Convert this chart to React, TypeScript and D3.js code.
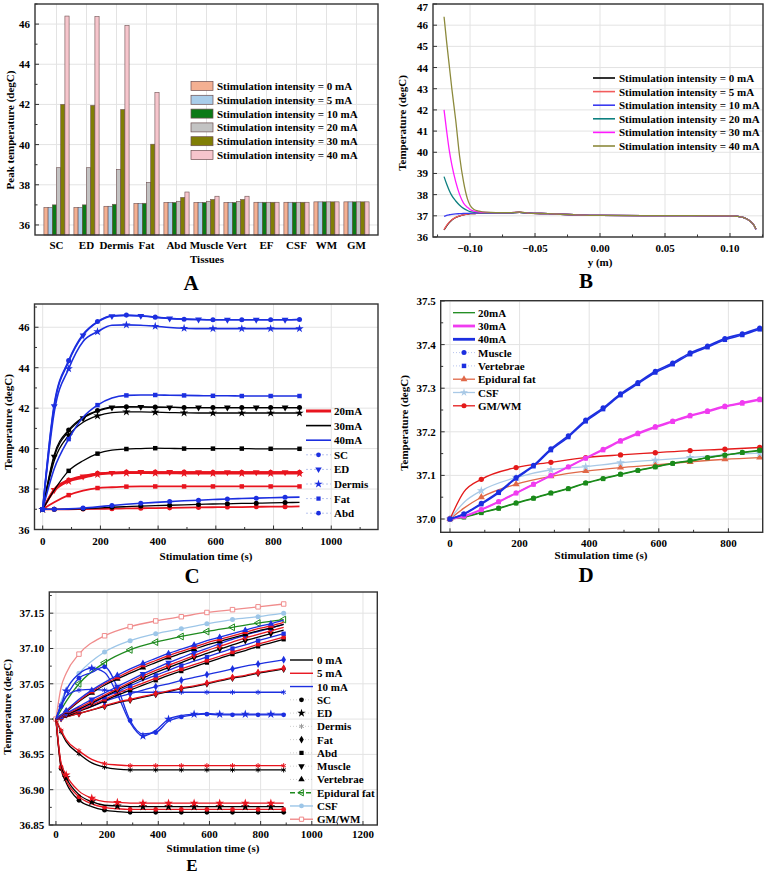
import React from 'react';
import * as d3 from 'd3';

const FONT = '"Liberation Serif","Times New Roman",Times,serif';

// ---------------- Panel A data ----------------
const tissuesA = ['SC', 'ED', 'Dermis', 'Fat', 'Abd', 'Muscle', 'Vert', 'EF', 'CSF', 'WM', 'GM'];
const intensityLabels = [
  'Stimulation intensity = 0 mA',
  'Stimulation intensity = 5 mA',
  'Stimulation intensity = 10 mA',
  'Stimulation intensity = 20 mA',
  'Stimulation intensity = 30 mA',
  'Stimulation intensity = 40 mA',
];
const peak0mA = [36.87, 36.87, 36.93, 37.07, 37.12, 37.12, 37.12, 37.13, 37.13, 37.15, 37.15];
const peak5mA = [36.87, 36.87, 36.93, 37.07, 37.12, 37.12, 37.12, 37.13, 37.13, 37.15, 37.15];
const peak10mA = [37.0, 37.0, 37.03, 37.08, 37.12, 37.12, 37.12, 37.13, 37.13, 37.15, 37.15];
const peak20mA = [38.85, 38.85, 38.77, 38.12, 37.18, 37.18, 37.17, 37.13, 37.13, 37.15, 37.15];
const peak30mA = [42.0, 41.95, 41.75, 40.02, 37.37, 37.27, 37.27, 37.13, 37.13, 37.15, 37.15];
const peak40mA = [46.4, 46.37, 45.93, 42.6, 37.64, 37.43, 37.43, 37.13, 37.13, 37.15, 37.15];
const barColorsA = ['#f4b092', '#a9cdea', '#0b7a16', '#c3c3c3', '#807e05', '#f6c5cc'];

// ---------------- Panel B data ----------------
const posB = [-0.12, -0.118, -0.116, -0.114, -0.111, -0.108, -0.105, -0.102, -0.1, -0.097, -0.093, -0.088, -0.08, -0.07, -0.062, -0.055, -0.04, -0.02, 0, 0.05, 0.1, 0.105, 0.11, 0.113, 0.116, 0.118, 0.12];
const b0mA = [36.33, 36.53, 36.68, 36.8, 36.92, 36.99, 37.04, 37.08, 37.1, 37.11, 37.13, 37.14, 37.14, 37.14, 37.16, 37.13, 37.1, 37.05, 37.02, 37.01, 37.0, 36.98, 36.93, 36.85, 36.72, 36.6, 36.36];
const b5mA = [36.35, 36.55, 36.7, 36.82, 36.93, 37.0, 37.05, 37.08, 37.1, 37.11, 37.13, 37.14, 37.14, 37.14, 37.16, 37.13, 37.1, 37.05, 37.02, 37.01, 37.0, 36.98, 36.93, 36.85, 36.72, 36.6, 36.37];
const b10mA = [36.97, 37.02, 37.05, 37.07, 37.09, 37.1, 37.11, 37.12, 37.12, 37.13, 37.14, 37.14, 37.14, 37.14, 37.16, 37.13, 37.1, 37.05, 37.02, 37.01, 37.0, 36.98, 36.93, 36.85, 36.72, 36.6, 36.37];
const b20mA = [38.85, 38.5, 38.2, 37.95, 37.7, 37.5, 37.35, 37.25, 37.2, 37.17, 37.15, 37.15, 37.14, 37.14, 37.16, 37.13, 37.1, 37.05, 37.02, 37.01, 37.0, 36.98, 36.93, 36.85, 36.72, 36.6, 36.37];
const b30mA = [42.0, 41.0, 40.1, 39.4, 38.6, 38.0, 37.6, 37.4, 37.3, 37.22, 37.18, 37.16, 37.15, 37.15, 37.17, 37.13, 37.1, 37.05, 37.02, 37.01, 37.0, 36.98, 36.93, 36.85, 36.72, 36.6, 36.37];
const b40mA = [46.4, 45.2, 44.1, 43.0, 41.5, 39.8, 38.6, 37.8, 37.5, 37.3, 37.22, 37.17, 37.15, 37.15, 37.18, 37.13, 37.1, 37.05, 37.02, 37.01, 37.0, 36.98, 36.93, 36.85, 36.72, 36.6, 36.38];
const colorsB = ['#000000', '#f25c5c', '#3b3bf0', '#0e8080', '#ff1aff', '#8c8a3c'];

// ---------------- Panel C data ----------------
const timeC = [0, 40, 90, 140, 190, 240, 290, 340, 390, 440, 490, 540, 590, 640, 690, 740, 790, 840, 890];
const c40SC = [37, 42.2, 44.35, 45.65, 46.28, 46.57, 46.6, 46.57, 46.5, 46.44, 46.4, 46.38, 46.37, 46.37, 46.37, 46.37, 46.37, 46.37, 46.38];
const c40ED = [37, 42.1, 44.3, 45.6, 46.25, 46.55, 46.58, 46.56, 46.5, 46.43, 46.4, 46.38, 46.37, 46.37, 46.37, 46.37, 46.37, 46.37, 46.38];
const c40Dermis = [37, 41.8, 43.95, 45.3, 45.78, 46.1, 46.12, 46.1, 46.05, 45.99, 45.95, 45.93, 45.93, 45.93, 45.93, 45.93, 45.93, 45.93, 45.93];
const c40Fat = [37, 39.0, 40.47, 41.55, 42.15, 42.5, 42.63, 42.65, 42.65, 42.64, 42.63, 42.62, 42.61, 42.61, 42.6, 42.6, 42.6, 42.6, 42.6];
const c40Abd = [37, 37.0, 37.02, 37.06, 37.12, 37.19, 37.25, 37.3, 37.34, 37.38, 37.42, 37.45, 37.48, 37.51, 37.53, 37.55, 37.57, 37.59, 37.6];
const c30SC = [37, 39.7, 40.92, 41.55, 41.88, 42.05, 42.07, 42.06, 42.05, 42.04, 42.03, 42.03, 42.03, 42.03, 42.03, 42.03, 42.03, 42.03, 42.03];
const c30ED = [37, 39.6, 40.85, 41.5, 41.85, 42.03, 42.06, 42.06, 42.05, 42.04, 42.03, 42.03, 42.03, 42.03, 42.03, 42.03, 42.03, 42.03, 42.03];
const c30Dermis = [37, 39.4, 40.65, 41.3, 41.62, 41.78, 41.82, 41.82, 41.8, 41.78, 41.77, 41.76, 41.76, 41.76, 41.76, 41.76, 41.76, 41.76, 41.76];
const c30Fat = [37, 37.95, 38.9, 39.4, 39.75, 39.92, 39.98, 40.0, 40.02, 40.01, 40.0, 40.0, 40.0, 40.0, 40.0, 39.99, 39.99, 39.99, 39.99];
const c30Abd = [37, 37.0, 37.01, 37.03, 37.06, 37.1, 37.13, 37.16, 37.18, 37.2, 37.22, 37.24, 37.26, 37.27, 37.29, 37.3, 37.32, 37.33, 37.34];
const c20SC = [37, 38.0, 38.45, 38.65, 38.78, 38.82, 38.84, 38.84, 38.84, 38.84, 38.84, 38.83, 38.83, 38.83, 38.83, 38.83, 38.83, 38.83, 38.83];
const c20ED = [37, 37.95, 38.42, 38.62, 38.76, 38.8, 38.83, 38.84, 38.84, 38.84, 38.83, 38.83, 38.83, 38.83, 38.83, 38.83, 38.83, 38.83, 38.83];
const c20Dermis = [37, 37.9, 38.38, 38.55, 38.72, 38.77, 38.79, 38.79, 38.78, 38.78, 38.77, 38.77, 38.77, 38.77, 38.77, 38.77, 38.77, 38.77, 38.77];
const c20Fat = [37, 37.35, 37.7, 37.92, 38.05, 38.09, 38.12, 38.13, 38.13, 38.13, 38.13, 38.13, 38.13, 38.13, 38.13, 38.13, 38.13, 38.13, 38.13];
const c20Abd = [37, 37.0, 37.0, 37.01, 37.02, 37.03, 37.04, 37.05, 37.06, 37.07, 37.08, 37.09, 37.1, 37.11, 37.11, 37.12, 37.13, 37.13, 37.14];
const currentLabelsC = ['20mA', '30mA', '40mA'];
const tissueLabelsC = ['SC', 'ED', 'Dermis', 'Fat', 'Abd'];

// ---------------- Panel D data ----------------
const timeD = [0, 40, 90, 140, 190, 240, 290, 340, 390, 440, 490, 540, 590, 640, 690, 740, 790, 840, 890];
const d40Muscle = [37.0, 37.012, 37.036, 37.062, 37.095, 37.123, 37.161, 37.191, 37.227, 37.255, 37.287, 37.313, 37.339, 37.358, 37.381, 37.397, 37.414, 37.425, 37.438];
const d40Vert = [37.0, 37.011, 37.034, 37.06, 37.093, 37.121, 37.158, 37.188, 37.224, 37.252, 37.284, 37.31, 37.336, 37.355, 37.378, 37.394, 37.411, 37.422, 37.435];
const d30Muscle = [37.0, 37.007, 37.022, 37.04, 37.06, 37.08, 37.1, 37.12, 37.14, 37.16, 37.18, 37.197, 37.212, 37.225, 37.238, 37.248, 37.259, 37.267, 37.275];
const d30Vert = [37.0, 37.006, 37.021, 37.039, 37.059, 37.079, 37.099, 37.119, 37.139, 37.158, 37.178, 37.195, 37.21, 37.223, 37.236, 37.246, 37.257, 37.265, 37.273];
const d20Muscle = [37.0, 37.005, 37.015, 37.025, 37.037, 37.048, 37.06, 37.07, 37.083, 37.093, 37.103, 37.112, 37.12, 37.128, 37.134, 37.141, 37.147, 37.153, 37.158];
const d20Vert = [37.0, 37.004, 37.014, 37.024, 37.036, 37.047, 37.059, 37.069, 37.082, 37.092, 37.102, 37.111, 37.119, 37.127, 37.133, 37.14, 37.146, 37.152, 37.157];
const timeD2 = [0, 40, 90, 190, 290, 390, 490, 590, 690, 790, 890];
const dEF = [37.0, 37.025, 37.05, 37.08, 37.098, 37.11, 37.118, 37.124, 37.131, 37.137, 37.141];
const dCSF = [37.0, 37.038, 37.065, 37.095, 37.113, 37.12, 37.129, 37.135, 37.141, 37.147, 37.151];
const dGMWM = [37.0, 37.062, 37.091, 37.118, 37.13, 37.141, 37.147, 37.152, 37.157, 37.16, 37.164];
const legendLabelsD = ['20mA', '30mA', '40mA', 'Muscle', 'Vertebrae', 'Epidural fat', 'CSF', 'GM/WM'];

// ---------------- Panel E data ----------------
const timeE = [0, 20, 40, 90, 140, 190, 240, 290, 340, 390, 440, 490, 540, 590, 640, 690, 740, 790, 840, 890];
const eSC0 = [37.0, 36.93, 36.91, 36.885, 36.876, 36.871, 36.869, 36.868, 36.868, 36.868, 36.868, 36.868, 36.868, 36.868, 36.868, 36.868, 36.868, 36.868, 36.868, 36.868];
const eSC5 = [37.0, 36.932, 36.913, 36.89, 36.88, 36.875, 36.873, 36.872, 36.872, 36.872, 36.872, 36.872, 36.872, 36.872, 36.872, 36.872, 36.872, 36.872, 36.872, 36.872];
const eSC10 = [37.0, 37.018, 37.032, 37.058, 37.066, 37.074, 37.045, 36.998, 36.979, 36.981, 36.997, 37.003, 37.006, 37.007, 37.006, 37.006, 37.006, 37.006, 37.006, 37.006];
const eED0 = [37.0, 36.935, 36.917, 36.893, 36.883, 36.878, 36.877, 36.876, 36.876, 36.876, 36.876, 36.876, 36.876, 36.876, 36.876, 36.876, 36.876, 36.876, 36.876, 36.876];
const eED5 = [37.0, 36.938, 36.921, 36.898, 36.888, 36.883, 36.882, 36.881, 36.881, 36.881, 36.881, 36.881, 36.881, 36.881, 36.881, 36.881, 36.881, 36.881, 36.881, 36.881];
const eED10 = [37.0, 37.02, 37.04, 37.064, 37.072, 37.066, 37.035, 36.995, 36.976, 36.984, 37.0, 37.005, 37.007, 37.008, 37.007, 37.007, 37.007, 37.007, 37.007, 37.007];
const eDermis0 = [37.0, 36.982, 36.968, 36.951, 36.938, 36.932, 36.929, 36.928, 36.928, 36.928, 36.928, 36.928, 36.928, 36.928, 36.928, 36.928, 36.928, 36.928, 36.928, 36.928];
const eDermis5 = [37.0, 36.984, 36.971, 36.955, 36.943, 36.937, 36.935, 36.934, 36.934, 36.934, 36.934, 36.934, 36.934, 36.934, 36.934, 36.934, 36.934, 36.934, 36.934, 36.934];
const eDermis10 = [37.0, 37.02, 37.032, 37.041, 37.042, 37.041, 37.04, 37.039, 37.038, 37.038, 37.038, 37.038, 37.038, 37.038, 37.038, 37.038, 37.038, 37.038, 37.038, 37.038];
const eFat0 = [37.0, 37.001, 37.003, 37.008, 37.013, 37.018, 37.023, 37.027, 37.031, 37.035, 37.039, 37.043, 37.046, 37.05, 37.054, 37.058, 37.061, 37.065, 37.068, 37.071];
const eFat5 = [37.0, 37.001, 37.003, 37.008, 37.013, 37.019, 37.024, 37.028, 37.032, 37.036, 37.04, 37.044, 37.047, 37.051, 37.055, 37.059, 37.062, 37.066, 37.069, 37.072];
const eFat10 = [37.0, 37.002, 37.005, 37.012, 37.018, 37.025, 37.031, 37.036, 37.041, 37.046, 37.05, 37.055, 37.059, 37.063, 37.067, 37.071, 37.075, 37.078, 37.081, 37.084];
const eAbd0 = [37.0, 37.002, 37.004, 37.011, 37.018, 37.026, 37.034, 37.041, 37.048, 37.055, 37.062, 37.068, 37.074, 37.08, 37.086, 37.092, 37.097, 37.103, 37.108, 37.113];
const eAbd5 = [37.0, 37.002, 37.005, 37.012, 37.02, 37.028, 37.036, 37.044, 37.051, 37.058, 37.065, 37.071, 37.077, 37.083, 37.089, 37.095, 37.1, 37.106, 37.111, 37.116];
const eAbd10 = [37.0, 37.003, 37.006, 37.014, 37.022, 37.031, 37.039, 37.047, 37.055, 37.062, 37.069, 37.076, 37.082, 37.088, 37.094, 37.1, 37.105, 37.111, 37.116, 37.121];
const eMuscle0 = [37.0, 37.003, 37.006, 37.014, 37.023, 37.032, 37.041, 37.05, 37.058, 37.066, 37.073, 37.08, 37.087, 37.093, 37.099, 37.105, 37.111, 37.116, 37.121, 37.126];
const eMuscle5 = [37.0, 37.003, 37.007, 37.016, 37.025, 37.034, 37.043, 37.052, 37.061, 37.069, 37.076, 37.083, 37.09, 37.097, 37.103, 37.109, 37.115, 37.12, 37.125, 37.13];
const eMuscle10 = [37.0, 37.004, 37.008, 37.018, 37.028, 37.037, 37.046, 37.055, 37.064, 37.072, 37.08, 37.087, 37.094, 37.1, 37.107, 37.113, 37.119, 37.124, 37.129, 37.134];
const eVert0 = [37.0, 37.005, 37.01, 37.025, 37.037, 37.048, 37.057, 37.065, 37.073, 37.08, 37.087, 37.093, 37.099, 37.105, 37.11, 37.115, 37.12, 37.125, 37.129, 37.134];
const eVert5 = [37.0, 37.005, 37.011, 37.026, 37.039, 37.05, 37.059, 37.068, 37.076, 37.083, 37.09, 37.096, 37.102, 37.108, 37.113, 37.118, 37.123, 37.128, 37.132, 37.137];
const eVert10 = [37.0, 37.006, 37.012, 37.028, 37.041, 37.052, 37.062, 37.071, 37.079, 37.086, 37.093, 37.099, 37.105, 37.111, 37.116, 37.121, 37.126, 37.131, 37.135, 37.14];
const timeE2 = [0, 20, 40, 90, 190, 290, 390, 490, 590, 690, 790, 890];
const eGMWM = [37.0, 37.045, 37.065, 37.092, 37.118, 37.131, 37.139, 37.145, 37.151, 37.155, 37.159, 37.163];
const eCSF = [37.0, 37.025, 37.042, 37.065, 37.095, 37.111, 37.121, 37.128, 37.135, 37.141, 37.145, 37.15];
const eEF = [37.0, 37.013, 37.025, 37.05, 37.08, 37.098, 37.109, 37.117, 37.124, 37.13, 37.136, 37.141];
const legendLabelsE = ['0 mA', '5 mA', '10 mA', 'SC', 'ED', 'Dermis', 'Fat', 'Abd', 'Muscle', 'Vertebrae', 'Epidural fat', 'CSF', 'GM/WM'];

// ---------------- helpers ----------------
const BLUE = '#1c2fe0';
const RED = '#e8141e';
const BLACK = '#000000';

function Sym({ type, x, y, size = 20, color }: { type: string; x: number; y: number; size?: number; color: string }) {
  let sym: any = d3.symbolCircle;
  let rot = 0;
  let fill = color;
  let st = 'none';
  let sw = 0;
  switch (type) {
    case 'square': sym = d3.symbolSquare; break;
    case 'openSquare': sym = d3.symbolSquare; fill = 'white'; st = color; sw = 1; break;
    case 'triUp': sym = d3.symbolTriangle; break;
    case 'triDown': sym = d3.symbolTriangle; rot = 180; break;
    case 'triLeft': sym = d3.symbolTriangle; rot = -90; fill = 'none'; st = color; sw = 1; break;
    case 'star': sym = d3.symbolStar; break;
    case 'diamond': sym = d3.symbolDiamond; break;
    case 'asterisk': sym = (d3 as any).symbolAsterisk || d3.symbolTimes; fill = 'none'; st = color; sw = 1; break;
  }
  const d = d3.symbol().type(sym).size(size)() || '';
  return <path d={d} transform={`translate(${x},${y}) rotate(${rot})`} fill={fill} stroke={st} strokeWidth={sw} />;
}

type AxesProps = {
  x0: number; x1: number; y0: number; y1: number;
  xs?: d3.ScaleLinear<number, number>;
  ys: d3.ScaleLinear<number, number>;
  xTicks?: number[]; xMinor?: number[]; xFmt?: (v: number) => string;
  yTicks: number[]; yMinor?: number[]; yFmt: (v: number) => string;
  xGrid?: number[]; yGrid?: number[];
  xLabelOffset?: number;
  children?: React.ReactNode;
};

function Axes(p: AxesProps) {
  const { x0, x1, y0, y1, xs, ys } = p;
  const xo = p.xLabelOffset ?? 15;
  return (
    <g>
      <rect x={x0} y={y0} width={x1 - x0} height={y1 - y0} fill="white" />
      {xs && (p.xGrid || []).map((v, i) => (
        <line key={'xg' + i} x1={xs(v)} x2={xs(v)} y1={y0} y2={y1} stroke="#e3e3e3" strokeWidth={1} />
      ))}
      {(p.yGrid || []).map((v, i) => (
        <line key={'yg' + i} x1={x0} x2={x1} y1={ys(v)} y2={ys(v)} stroke="#e3e3e3" strokeWidth={1} />
      ))}
      {p.children}
      <rect x={x0} y={y0} width={x1 - x0} height={y1 - y0} fill="none" stroke="#333" strokeWidth={1.4} />
      {p.yTicks.map((v, i) => (
        <g key={'yt' + i}>
          <line x1={x0} x2={x0 + 4} y1={ys(v)} y2={ys(v)} stroke="#333" strokeWidth={1} />
          <text x={x0 - 5} y={Math.max(ys(v), 7)} textAnchor="end" dominantBaseline="central" fontSize={11} fontWeight="bold" fontFamily={FONT}>{p.yFmt(v)}</text>
        </g>
      ))}
      {(p.yMinor || []).map((v, i) => (
        <line key={'ym' + i} x1={x0} x2={x0 + 2.5} y1={ys(v)} y2={ys(v)} stroke="#333" strokeWidth={1} />
      ))}
      {xs && (p.xTicks || []).map((v, i) => (
        <g key={'xt' + i}>
          <line x1={xs(v)} x2={xs(v)} y1={y1} y2={y1 - 4} stroke="#333" strokeWidth={1} />
          <text x={xs(v)} y={y1 + xo} textAnchor="middle" fontSize={11} fontWeight="bold" fontFamily={FONT}>{p.xFmt ? p.xFmt(v) : String(v)}</text>
        </g>
      ))}
      {xs && (p.xMinor || []).map((v, i) => (
        <line key={'xm' + i} x1={xs(v)} x2={xs(v)} y1={y1} y2={y1 - 2.5} stroke="#333" strokeWidth={1} />
      ))}
    </g>
  );
}

function Txt({ x, y, children, size = 11, anchor = 'start', rotate = 0, weight = 'bold' }: any) {
  return (
    <text x={x} y={y} fontSize={size} fontWeight={weight} fontFamily={FONT} textAnchor={anchor}
      transform={rotate ? `rotate(${rotate},${x},${y})` : undefined} dominantBaseline={rotate ? 'central' : undefined}>
      {children}
    </text>
  );
}

function path(xs: d3.ScaleLinear<number, number>, ys: d3.ScaleLinear<number, number>, tx: number[], vy: number[], curve: any = d3.curveMonotoneX) {
  return d3.line<number>().x((_, i) => xs(tx[i])).y((v) => ys(v)).curve(curve)(vy) || '';
}

const range = (a: number, b: number, s: number) => d3.range(a, b + s / 2, s).map((v) => +v.toFixed(4));

// ---------------- Panels ----------------
function PanelA() {
  const xs = d3.scaleLinear().domain([-0.717, 10.717]).range([35, 378]);
  const ys = d3.scaleLinear().domain([35.5, 47]).range([235, 4]);
  const series = [peak0mA, peak5mA, peak10mA, peak20mA, peak30mA, peak40mA];
  const groupW = (xs(1) - xs(0)) * 0.84;
  const bw = groupW / 6;
  return (
    <g>
      <Axes x0={35} x1={378} y0={4} y1={235} ys={ys} xs={xs}
        yTicks={range(36, 46, 2)} yMinor={range(37, 47, 2)} yFmt={(v) => String(v)}
        xGrid={tissuesA.map((_, i) => i)} yGrid={range(36, 46, 2)}>
        {series.map((vals, k) => vals.map((v, i) => (
          <rect key={k + '-' + i} x={xs(i) - groupW / 2 + k * bw} y={ys(v)} width={bw} height={ys(35.5) - ys(v)}
            fill={barColorsA[k]} stroke="#6d4f50" strokeWidth={0.6} />
        )))}
      </Axes>
      {tissuesA.map((t, i) => (
        <Txt key={t} x={xs(i)} y={249} anchor="middle">{t}</Txt>
      ))}
      <Txt x={207} y={263} anchor="middle">Tissues</Txt>
      <Txt x={10} y={130} anchor="middle" rotate={-90}>Peak temperature (degC)</Txt>
      {intensityLabels.map((l, k) => (
        <g key={l}>
          <rect x={191} y={86 + k * 13.8 - 4.5} width={22} height={9} fill={barColorsA[k]} stroke="#6d4f50" strokeWidth={0.7} />
          <Txt x={217} y={86 + k * 13.8 + 4}>{l}</Txt>
        </g>
      ))}
      <Txt x={191} y={290} size={21} anchor="middle">A</Txt>
    </g>
  );
}

function PanelB() {
  const xs = d3.scaleLinear().domain([-0.1285, 0.1254]).range([433, 763]);
  const ys = d3.scaleLinear().domain([36, 47]).range([237, 4]);
  const series = [b0mA, b5mA, b10mA, b20mA, b30mA, b40mA];
  return (
    <g>
      <Axes x0={433} x1={763} y0={4} y1={237} xs={xs} ys={ys}
        yTicks={range(36, 47, 1)} yFmt={(v) => String(v)}
        xTicks={[-0.1, -0.05, 0, 0.05, 0.1]} xMinor={[-0.125, -0.075, -0.025, 0.025, 0.075, 0.125]} xFmt={d3.format('.2f')}
        xGrid={[-0.1, -0.05, 0, 0.05, 0.1]} yGrid={range(36, 47, 1)}>
        {series.map((vals, k) => (
          <path key={k} d={path(xs, ys, posB, vals)} fill="none" stroke={colorsB[k]} strokeWidth={1.3} />
        ))}
      </Axes>
      <Txt x={600} y={266} anchor="middle">y (m)</Txt>
      <Txt x={402} y={123} anchor="middle" rotate={-90}>Temperature (degC)</Txt>
      {intensityLabels.map((l, k) => (
        <g key={l}>
          <line x1={593} x2={615} y1={78 + k * 13.6} y2={78 + k * 13.6} stroke={colorsB[k]} strokeWidth={1.6} />
          <Txt x={619} y={78 + k * 13.6 + 4}>{l}</Txt>
        </g>
      ))}
      <Txt x={586} y={288} size={21} anchor="middle">B</Txt>
    </g>
  );
}

function PanelC() {
  const xs = d3.scaleLinear().domain([-28.4, 1162]).range([34.5, 378]);
  const ys = d3.scaleLinear().domain([36, 47.15]).range([529.5, 304]);
  const cur = [
    { c: RED, w: 1.8, s: [c20SC, c20ED, c20Dermis, c20Fat, c20Abd] },
    { c: BLACK, w: 1.3, s: [c30SC, c30ED, c30Dermis, c30Fat, c30Abd] },
    { c: BLUE, w: 1.6, s: [c40SC, c40ED, c40Dermis, c40Fat, c40Abd] },
  ];
  const marks = ['circle', 'triDown', 'star', 'square', 'circle'];
  const offs = [0, 1, 0, 0, 1];
  const legY = (k: number) => 411 + k * 14.6;
  return (
    <g>
      <Axes x0={34.5} x1={378} y0={304} y1={529.5} xs={xs} ys={ys}
        yTicks={range(36, 46, 2)} yMinor={range(37, 47, 2)} yFmt={(v) => String(v)}
        xTicks={range(0, 1000, 200)} xMinor={range(100, 1100, 200)}
        xGrid={range(0, 1000, 200)} yGrid={range(36, 46, 2)}>
        {cur.map((g, gi) => g.s.map((vals, si) => (
          <g key={gi + '-' + si}>
            <path d={path(xs, ys, timeC, vals)} fill="none" stroke={g.c} strokeWidth={g.w} />
            {vals.map((v, i) => (i % 2 === offs[si] ? (
              <Sym key={i} type={marks[si]} x={xs(timeC[i])} y={ys(v)} size={marks[si] === 'star' ? 22 : 20} color={g.c} />
            ) : null))}
          </g>
        )))}
      </Axes>
      <Txt x={206} y={560} anchor="middle">Stimulation time (s)</Txt>
      <Txt x={8} y={422} anchor="middle" rotate={-90}>Temperature (degC)</Txt>
      {currentLabelsC.map((l, k) => (
        <g key={l}>
          <line x1={306} x2={331} y1={legY(k)} y2={legY(k)} stroke={cur[k].c} strokeWidth={k === 0 ? 3 : 1.6} />
          <Txt x={334} y={legY(k) + 4}>{l}</Txt>
        </g>
      ))}
      {tissueLabelsC.map((l, k) => (
        <g key={l}>
          <line x1={306} x2={331} y1={legY(k + 3)} y2={legY(k + 3)} stroke="#b8c4ee" strokeWidth={1} strokeDasharray="2,2" />
          <Sym type={marks[k]} x={318.5} y={legY(k + 3)} size={marks[k] === 'star' ? 22 : 18} color={BLUE} />
          <Txt x={334} y={legY(k + 3) + 4}>{l}</Txt>
        </g>
      ))}
      <Txt x={192} y={583} size={21} anchor="middle">C</Txt>
    </g>
  );
}

function PanelD() {
  const xs = d3.scaleLinear().domain([-26.7, 898.6]).range([440.7, 762.7]);
  const ys = d3.scaleLinear().domain([36.9695, 37.5007]).range([532.3, 300.7]);
  const GREEN = '#1a8a1a';
  const MAG = '#f03cf0';
  const DBLUE = '#1c2fe0';
  const OR = '#e06848';
  const LB = '#a9c9e6';
  const DRED = '#e41a1a';
  const main = [
    { v: d20Muscle, c: GREEN, w: 1.3, m: 'circle' },
    { v: d20Vert, c: GREEN, w: 1.3, m: 'square' },
    { v: d30Muscle, c: MAG, w: 1.6, m: 'circle' },
    { v: d30Vert, c: MAG, w: 1.6, m: 'square' },
    { v: d40Muscle, c: DBLUE, w: 1.6, m: 'circle' },
    { v: d40Vert, c: DBLUE, w: 1.6, m: 'square' },
  ];
  const extra = [
    { v: dEF, c: OR, m: 'triUp' },
    { v: dCSF, c: LB, m: 'star' },
    { v: dGMWM, c: DRED, m: 'circle' },
  ];
  const legY = (k: number) => 312.7 + k * 13.3;
  const legItems = [
    { c: GREEN, w: 1.3 }, { c: MAG, w: 2.8 }, { c: DBLUE, w: 2.8 },
    { c: '#b8c4ee', w: 1, dash: '1,2', m: 'circle', mc: DBLUE },
    { c: '#b8c4ee', w: 1, dash: '1,2', m: 'square', mc: DBLUE },
    { c: OR, w: 1.3, m: 'triUp', mc: OR },
    { c: LB, w: 1.3, m: 'star', mc: LB },
    { c: DRED, w: 1.3, m: 'circle', mc: DRED },
  ];
  return (
    <g>
      <Axes x0={440.7} x1={762.7} y0={300.7} y1={532.3} xs={xs} ys={ys}
        yTicks={range(37.0, 37.5, 0.1)} yMinor={range(37.05, 37.45, 0.1)} yFmt={d3.format('.1f')}
        xTicks={range(0, 800, 200)} xMinor={range(100, 700, 200)}
        xGrid={range(0, 800, 200)} yGrid={range(37.0, 37.5, 0.1)}>
        {extra.map((s, si) => (
          <g key={'e' + si}>
            <path d={path(xs, ys, timeD2, s.v)} fill="none" stroke={s.c} strokeWidth={1.3} />
            {s.v.map((v, i) => (i === 1 ? null : <Sym key={i} type={s.m} x={xs(timeD2[i])} y={ys(v)} size={s.m === 'star' ? 24 : 22} color={s.c} />))}
          </g>
        ))}
        {main.map((s, si) => (
          <g key={'m' + si}>
            <path d={path(xs, ys, timeD, s.v)} fill="none" stroke={s.c} strokeWidth={s.w} />
            {s.v.map((v, i) => <Sym key={i} type={s.m} x={xs(timeD[i])} y={ys(v)} size={20} color={s.c} />)}
          </g>
        ))}
      </Axes>
      <Txt x={601} y={559} anchor="middle">Stimulation time (s)</Txt>
      <Txt x={404} y={423} anchor="middle" rotate={-90}>Temperature (degC)</Txt>
      {legendLabelsD.map((l, k) => {
        const it: any = legItems[k];
        return (
          <g key={l}>
            <line x1={453} x2={475} y1={legY(k)} y2={legY(k)} stroke={it.c} strokeWidth={it.w} strokeDasharray={it.dash} />
            {it.m && <Sym type={it.m} x={464} y={legY(k)} size={20} color={it.mc} />}
            <Txt x={478} y={legY(k) + 4}>{l}</Txt>
          </g>
        );
      })}
      <Txt x={586} y={582} size={21} anchor="middle">D</Txt>
    </g>
  );
}

function PanelE() {
  const xs = d3.scaleLinear().domain([-26, 1256]).range([49.3, 377.3]);
  const ys = d3.scaleLinear().domain([36.85, 37.18]).range([825, 592]);
  const PINK = '#f08c8c';
  const LB = '#9dc6e8';
  const GREEN = '#1e8a1e';
  const tissues = [
    { m: 'circle', off: 1, s: [eSC0, eSC5, eSC10] },
    { m: 'star', off: 0, s: [eED0, eED5, eED10] },
    { m: 'asterisk', off: 1, s: [eDermis0, eDermis5, eDermis10] },
    { m: 'diamond', off: 1, s: [eFat0, eFat5, eFat10] },
    { m: 'square', off: 1, s: [eAbd0, eAbd5, eAbd10] },
    { m: 'triDown', off: 0, s: [eMuscle0, eMuscle5, eMuscle10] },
    { m: 'triUp', off: 0, s: [eVert0, eVert5, eVert10] },
  ];
  const curColors = [BLACK, RED, BLUE];
  const extra = [
    { v: eEF, c: GREEN, m: 'triLeft' },
    { v: eCSF, c: LB, m: 'circle' },
    { v: eGMWM, c: PINK, m: 'openSquare' },
  ];
  const legY = (k: number) => 660 + k * 13.27;
  const legItems: any[] = [
    { c: BLACK, w: 1.4 }, { c: RED, w: 1.4 }, { c: BLUE, w: 1.4 },
    { c: '#cfcfcf', w: 1, dash: '1,2', m: 'circle', mc: BLACK },
    { c: '#cfcfcf', w: 1, dash: '1,2', m: 'star', mc: BLACK },
    { c: '#cfcfcf', w: 1, dash: '1,2', m: 'asterisk', mc: '#9a9a9a' },
    { c: '#cfcfcf', w: 1, dash: '1,2', m: 'diamond', mc: BLACK },
    { c: '#cfcfcf', w: 1, dash: '1,2', m: 'square', mc: BLACK },
    { c: '#cfcfcf', w: 1, dash: '1,2', m: 'triDown', mc: BLACK },
    { c: '#cfcfcf', w: 1, dash: '1,2', m: 'triUp', mc: BLACK },
    { c: GREEN, w: 1.4, dash: '5,3', m: 'triLeft', mc: GREEN },
    { c: LB, w: 1.4, m: 'circle', mc: LB },
    { c: PINK, w: 1.4, m: 'openSquare', mc: PINK },
  ];
  return (
    <g>
      <Axes x0={49.3} x1={377.3} y0={592} y1={825} xs={xs} ys={ys}
        yTicks={range(36.85, 37.15, 0.05)} yMinor={range(36.875, 37.175, 0.05)} yFmt={d3.format('.2f')}
        xTicks={range(0, 1200, 200)} xMinor={range(100, 1100, 200)}
        xGrid={range(0, 1200, 200)} yGrid={range(36.85, 37.15, 0.05)} xLabelOffset={13}>
        {extra.map((s, si) => (
          <g key={'x' + si}>
            <path d={path(xs, ys, timeE2, s.v)} fill="none" stroke={s.c} strokeWidth={1.3} />
            {s.v.map((v, i) => (i === 1 || i === 2 ? null : <Sym key={i} type={s.m} x={xs(timeE2[i])} y={ys(v)} size={20} color={s.c} />))}
          </g>
        ))}
        {tissues.map((t, ti) => t.s.map((vals, ci) => (
          <g key={ti + '-' + ci}>
            <path d={path(xs, ys, timeE, vals)} fill="none" stroke={curColors[ci]} strokeWidth={1.3} />
            {vals.map((v, i) => (i > 0 && i % 2 === t.off ? (
              <Sym key={i} type={t.m} x={xs(timeE[i])} y={ys(v)} size={t.m === 'star' ? 24 : 18} color={curColors[ci]} />
            ) : null))}
          </g>
        )))}
      </Axes>
      <Txt x={213} y={852} anchor="middle">Stimulation time (s)</Txt>
      <Txt x={7} y={707} anchor="middle" rotate={-90}>Temperature (degC)</Txt>
      {legendLabelsE.map((l, k) => {
        const it = legItems[k];
        return (
          <g key={l}>
            <line x1={290} x2={313} y1={legY(k)} y2={legY(k)} stroke={it.c} strokeWidth={it.w} strokeDasharray={it.dash} />
            {it.m && <Sym type={it.m} x={301.5} y={legY(k)} size={it.m === 'star' ? 22 : 18} color={it.mc} />}
            <Txt x={317} y={legY(k) + 4}>{l}</Txt>
          </g>
        );
      })}
      <Txt x={192} y={871} size={17} anchor="middle">E</Txt>
    </g>
  );
}

export default function App() {
  return (
    <svg width={771} height={876} viewBox="0 0 771 876" style={{ position: 'absolute', left: 0, top: 0, background: 'white' }}>
      <rect x={0} y={0} width={771} height={876} fill="white" />
      <PanelA />
      <PanelB />
      <PanelC />
      <PanelD />
      <PanelE />
    </svg>
  );
}
